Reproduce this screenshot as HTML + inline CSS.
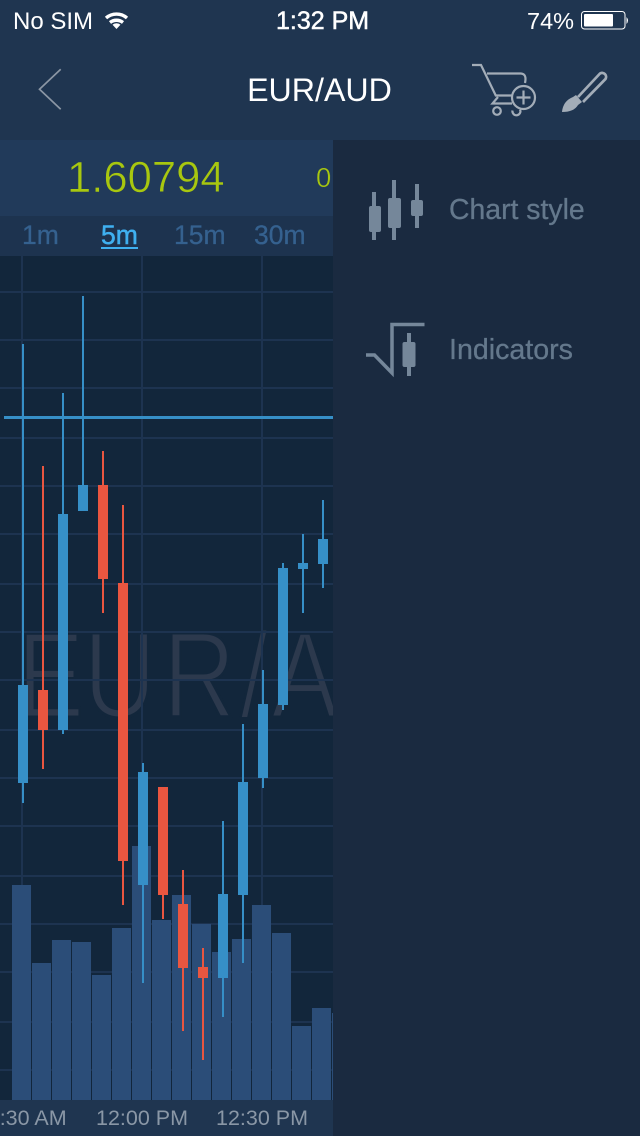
<!DOCTYPE html>
<html lang="en">
<head>
<meta charset="utf-8">
<title>EUR/AUD chart</title>
<style>
html,body{margin:0;padding:0;background:#1a2a40;}
svg{display:block;position:absolute;left:0;top:0;font-family:"Liberation Sans",sans-serif;}
</style>
</head>
<body>
<svg id="screen" xmlns="http://www.w3.org/2000/svg" width="640" height="1136" viewBox="0 0 640 1136">
  <defs><clipPath id="chart-clip"><rect x="0" y="256" width="333" height="844"/></clipPath>
  <clipPath id="strip-clip"><rect x="0" y="140" width="333" height="996"/></clipPath></defs>

  <rect x="0" y="0" width="640" height="140" fill="#1f3550"/>
  <rect x="333" y="140" width="307" height="996" fill="#1a2a40"/>
  <rect x="0" y="140" width="333" height="76" fill="#213a5a"/>
  <rect x="0" y="216" width="333" height="40" fill="#1d334f"/>
  <rect x="0" y="256" width="333" height="844" fill="#12263b"/>
  <rect x="0" y="1100" width="333" height="36" fill="#1f3550"/>

  <!-- status bar -->
  <text x="13" y="29" font-size="24" fill="#ffffff">No SIM</text>
  <g fill="none" stroke="#ffffff" stroke-width="3.4">
    <path d="M106 18 A16 16 0 0 1 127 18"/>
    <path d="M110 22.5 A10.5 10.5 0 0 1 123 22.5"/>
    <path d="M116.5 29 L112.5 24.8 A6 6 0 0 1 120.5 24.8 Z" fill="#ffffff" stroke="none"/>
  </g>
  <text x="276" y="29" font-size="25" fill="#ffffff" stroke="#ffffff" stroke-width="0.5">1:32 PM</text>
  <text x="527" y="29" font-size="23.5" fill="#ffffff">74%</text>
  <g>
    <rect x="581.5" y="11.5" width="43.5" height="17.5" rx="3" fill="none" stroke="#ffffff" stroke-width="1"/>
    <rect x="584" y="14" width="29" height="12.5" rx="1" fill="#ffffff"/>
    <path d="M626.5 17 Q629.5 20.5 626.5 24 Z" fill="#ffffff"/>
  </g>

  <!-- nav bar -->
  <path d="M60.7 69.3 L39.5 89.3 L60.7 109.3" fill="none" stroke="#8b96a4" stroke-width="1.7"/>
  <text x="319.5" y="101" font-size="32.2" fill="#ffffff" text-anchor="middle">EUR/AUD</text>
  <g fill="none" stroke="#a3adb8" stroke-width="2.2">
    <path d="M472 65 H481 L496 96"/>
    <path d="M487 73.5 H521 Q527 74 525 83"/>
    <path d="M495 95.5 H512"/>
    <path d="M498 97 L492.5 103.5 H512"/>
    <circle cx="497" cy="111" r="3.8"/>
    <path d="M512.5 110.5 A4 4 0 1 0 520 109.5"/>
    <circle cx="523.5" cy="97.5" r="11.5"/>
    <path d="M523.5 90.5 V104.5 M516.5 97.5 H530.5"/>
  </g>
  <g>
    <path d="M578 97 L600 73.5 A4 4 0 0 1 605.5 79 L583 102" fill="none" stroke="#a3adb8" stroke-width="2.7"/>
    <path d="M562 112 Q563 101 573 97 L576 95 L582 102 L578 105 Q574 112 562 112 Z" fill="#a3adb8"/>
  </g>

  <!-- price strip -->
  <text x="67" y="192" font-size="43.6" fill="#a8c70f" stroke="#213a5a" stroke-width="0.6">1.60794</text>
  <text x="316" y="187" font-size="27.5" fill="#a8c70f" stroke="#213a5a" stroke-width="0.4" clip-path="url(#strip-clip)">0</text>

  <!-- timeframes -->
  <g font-size="26.5">
    <text x="22" y="244" fill="#35618f" stroke="#35618f" stroke-width="0.3">1m</text>
    <text x="101" y="244" fill="#3fb0f0" stroke="#3fb0f0" stroke-width="0.5">5m</text>
    <text x="174" y="244" fill="#35618f" stroke="#35618f" stroke-width="0.3">15m</text>
    <text x="254" y="244" fill="#35618f" stroke="#35618f" stroke-width="0.3">30m</text>
  </g>
  <rect x="101" y="247" width="37" height="2" fill="#3fb0f0"/>

  <!-- chart -->
  <g id="chart" clip-path="url(#chart-clip)">
    <text transform="scale(0.82,1)" y="717" x="21 102 199 293 331" font-size="122" fill="#2c394d" stroke="#12263b" stroke-width="3">EUR/A</text>
    <g id="grid"></g>
    <g id="volumes"></g>
    <g id="candles"></g>
    <rect id="price-line" x="4" width="329" height="3" fill="#368fc7"/>
  </g>
  <g id="time-axis" clip-path="url(#strip-clip)"></g>

  <!-- side panel -->
  <g>
    <g fill="#75879a">
      <rect x="372" y="192" width="4" height="48"/><rect x="369" y="206" width="12" height="26" rx="2"/>
      <rect x="392" y="180" width="4" height="60"/><rect x="388" y="198" width="13" height="30" rx="2"/>
      <rect x="415" y="184" width="4" height="44"/><rect x="411" y="200" width="12" height="16" rx="2"/>
    </g>
    <text x="449" y="219" font-size="28.4" fill="#64788c" stroke="#64788c" stroke-width="0.3">Chart style</text>
  </g>
  <g>
    <g>
      <path d="M366 355 H374.5 L392 373 V324.5 H424.5" fill="none" stroke="#75879a" stroke-width="3.5"/>
      <rect x="407" y="333" width="4" height="43" fill="#75879a"/>
      <rect x="402.5" y="342" width="13" height="25" rx="2" fill="#75879a"/>
    </g>
    <text x="449" y="359" font-size="28.6" fill="#64788c" stroke="#64788c" stroke-width="0.3">Indicators</text>
  </g>
</svg>
<script>
const openPrices  = [1.60428,1.60521,1.60481,1.60700,1.60726,1.60628,1.60326,1.60424,1.60307,1.60244,1.60233,1.60316,1.60433,1.60506,1.60642,1.60647];
const closePrices = [1.60526,1.60481,1.60697,1.60726,1.60632,1.60350,1.60439,1.60316,1.60243,1.60233,1.60317,1.60429,1.60507,1.60643,1.60648,1.60672];
const highPrices  = [1.60867,1.60745,1.60818,1.60915,1.60760,1.60706,1.60448,1.60424,1.60341,1.60263,1.60390,1.60487,1.60541,1.60648,1.60677,1.60711];
const lowPrices   = [1.60408,1.60442,1.60477,1.60700,1.60598,1.60306,1.60228,1.60292,1.60180,1.60151,1.60194,1.60248,1.60423,1.60501,1.60598,1.60623];
const volumes     = [215,137,160,158,125,172,254,180,205,176,148,161,195,167,74,92,87];
const priceTicks  = [1.60919,1.60871,1.60823,1.60773,1.60725,1.60677,1.60627,1.60579,1.60531,1.60481,1.60433,1.60385,1.60335,1.60287,1.60239,1.60189,1.60141];
const timeLabels  = ["11:30 AM","12:00 PM","12:30 PM"];
const timeSlots   = [0,6,12];
const currentPrice = 1.60794;

const NS = "http://www.w3.org/2000/svg";
const UP = "#368fc7", DOWN = "#e95640";
function xAt(i){ return 23 + 20 * i; }
function yAt(p){ return Math.round((1.61211 - p) * 1e5 * 100) / 100; }
function volH(v){ return v; }
function rect(parent, x, y, w, h, fill){
  const r = document.createElementNS(NS, "rect");
  r.setAttribute("x", x);
  r.setAttribute("y", y);
  r.setAttribute("width", w);
  r.setAttribute("height", h);
  r.setAttribute("fill", fill);
  parent.appendChild(r);
  return r;
}
const grid = document.getElementById("grid");
priceTicks.forEach(function(p){
  const line = rect(grid, 0, yAt(p) - 1, 333, 2, "#1d3350");
  
  
});
timeSlots.forEach(function(s){
  const line = rect(grid, xAt(s) - 2, 256, 2, 844, "#1d3350");
  
  
});
const volG = document.getElementById("volumes");
volumes.forEach(function(v, i){
  const bar = rect(volG, xAt(i) - 11, 1100 - volH(v), 19, volH(v), "#2b4d78");
  
  
});
const candG = document.getElementById("candles");
openPrices.forEach(function(o, i){
  const c = closePrices[i];
  const color = c >= o ? UP : DOWN;
  const g = document.createElementNS(NS, "g");
  
  
  const hi = yAt(highPrices[i]), lo = yAt(lowPrices[i]);
  rect(g, xAt(i) - 1, hi, 2, lo - hi, color);
  const top = yAt(Math.max(o, c)), bot = yAt(Math.min(o, c));
  rect(g, xAt(i) - 5, top, 10, bot - top, color);
  candG.appendChild(g);
});
document.getElementById("price-line").setAttribute("y", yAt(currentPrice) - 1);
const axis = document.getElementById("time-axis");
timeLabels.forEach(function(t, i){
  const el = document.createElementNS(NS, "text");
  el.setAttribute("x", xAt(timeSlots[i]) - 1);
  el.setAttribute("y", 1125);
  el.setAttribute("font-size", "21.5");
  el.setAttribute("fill", "#8a97a6");
  el.setAttribute("text-anchor", "middle");
  
  
  el.textContent = t;
  axis.appendChild(el);
});
</script>
</body>
</html>
